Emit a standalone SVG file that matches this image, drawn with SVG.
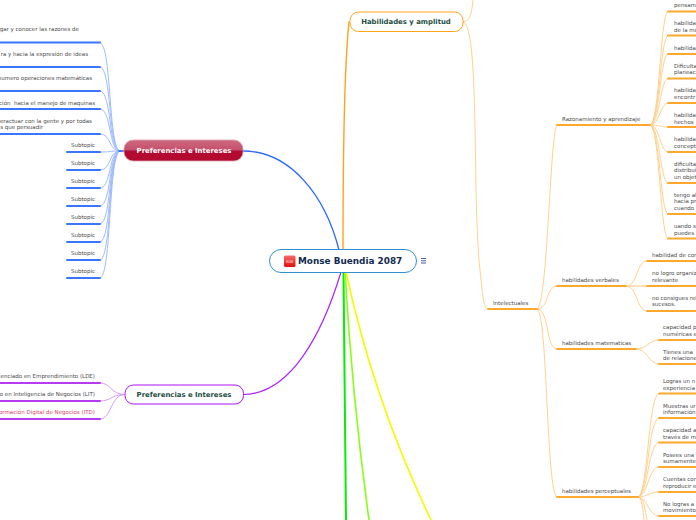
<svg xmlns="http://www.w3.org/2000/svg" width="696" height="520" viewBox="0 0 696 520">
<style>
text{font-family:"DejaVu Sans",Verdana,sans-serif;font-size:5.5px;fill:#4a4a4a}
.e{text-anchor:end}
.m{text-anchor:middle;font-weight:bold;font-size:6.9px;dominant-baseline:central}
.b{fill:none;stroke-linecap:round}
.bb{stroke:#3a75ff;stroke-width:2}
.bl{stroke:#9dbcff;stroke-width:1}
.pb{stroke:#b53cf2;stroke-width:2}
.pl{stroke:#d79bf8;stroke-width:1}
.ob{stroke:#ffa82e;stroke-width:2}
.ol{stroke:#ffd08f;stroke-width:1}
</style>
<defs>
<linearGradient id="red" x1="0" y1="0" x2="0" y2="1">
<stop offset="0" stop-color="#cf6a80"/><stop offset=".48" stop-color="#c4506c"/><stop offset=".52" stop-color="#b20a30"/><stop offset="1" stop-color="#b20a30"/>
</linearGradient>
<linearGradient id="ic" x1="0" y1="0" x2="0" y2="1"><stop offset="0" stop-color="#f56a6a"/><stop offset="1" stop-color="#e00f0f"/></linearGradient>
</defs>
<g id="connectors">
<path class="b" stroke="#2f6bff" stroke-width="1.4" d="M243 151C290 151 325 195 339 250"/>
<path class="b" stroke="#aa22ff" stroke-width="1.2" d="M243 394.500C290 394.500 322 335 341 272"/>
<path class="b" stroke="#ffa31a" stroke-width="1.4" d="M343 250C343 150 345 60 349 22"/>
<path class="b" stroke="#00f000" stroke-width="2" d="M343.500 272L346 520"/>
<path class="b" stroke="#88ff11" stroke-width="1.6" d="M345 272C350 360 358 440 369 520"/>
<path class="b" stroke="#f8f800" stroke-width="1.6" d="M346 272C365 360 395 445 431 520"/>
<g class="b bl">
<path d="M120 151C108 151 112 43 100 43"/><path d="M120 151C108 151 112 67 100 67"/><path d="M120 151C108 151 112 91 100 91"/><path d="M120 151C108 151 112 109 100 109"/><path d="M120 151C108 151 112 134 100 134"/><path d="M120 151C108 151 112 152 100 152"/><path d="M120 151C108 151 112 170 100 170"/><path d="M120 151C108 151 112 188 100 188"/><path d="M120 151C108 151 112 206 100 206"/><path d="M120 151C108 151 112 224 100 224"/><path d="M120 151C108 151 112 242 100 242"/><path d="M120 151C108 151 112 260 100 260"/><path d="M120 151C108 151 112 278 100 278"/>
</g>
<path class="b" stroke="#1f5cff" stroke-width="1.6" d="M119 151H124"/>
<g class="b bb">
<path d="M0 42.500H100"/><path d="M0 67H100"/><path d="M0 91H100"/><path d="M0 109H100"/><path d="M0 134H100"/><path d="M67 152H100"/><path d="M67 170H100"/><path d="M67 188H100"/><path d="M67 206H100"/><path d="M67 224H100"/><path d="M67 242H100"/><path d="M67 260H100"/><path d="M67 278H100"/>
</g>
<g class="b pl">
<path d="M125 394.500C110 394.500 112 383 100 383"/><path d="M125 394.500C110 394.500 112 401 100 401"/><path d="M125 394.500C110 394.500 112 419 100 419"/>
</g>
<g class="b pb"><path d="M0 383H100"/><path d="M0 401H100"/><path d="M0 419H100"/></g>
<g class="b ol">
<path d="M463 22C470 22 472 12 473 0"/>
<path d="M463 22C480 22 472 200 480 270C483 300 484 309 488 309"/>
<path d="M537 309C548 309 550 125 557 125"/>
<path d="M537 309C550 309 545 286 557 286"/>
<path d="M537 309C550 309 545 349 557 349"/>
<path d="M537 309C548 309 546 497 557 497"/>
<path d="M650 125C660 125 660 11.500 668 11.500"/><path d="M650 125C660 125 660 35.500 668 35.500"/><path d="M650 125C660 125 660 54 668 54"/><path d="M650 125C660 125 660 78.500 668 78.500"/><path d="M650 125C660 125 660 103 668 103"/><path d="M650 125C660 125 660 127 668 127"/><path d="M650 125C660 125 660 152 668 152"/><path d="M650 125C660 125 660 183 668 183"/><path d="M650 125C660 125 660 214 668 214"/><path d="M650 125C660 125 660 238.500 668 238.500"/>
<path d="M626 286C638 286 636 261 647 261"/><path d="M626 286H647" stroke="#ffe2bd" stroke-width="2"/><path d="M626 286C638 286 636 311 647 311"/>
<path d="M636 349C648 349 648 340 659 340"/><path d="M636 349C648 349 648 364 659 364"/>
<path d="M638 497C648 497 648 393.500 659 393.500"/><path d="M638 497C648 497 648 418 659 418"/><path d="M638 497C648 497 648 442.500 659 442.500"/><path d="M638 497C648 497 648 467 659 467"/><path d="M638 497C648 497 648 492 659 492"/><path d="M638 497C648 497 648 516 659 516"/><path d="M638 497C644 497 645 510 647 520"/><path d="M638 497C642 497 643 510 644 520"/>
</g>
<g class="b ob">
<path d="M557 125H650"/><path d="M488 309H537"/><path d="M557 286H626"/><path d="M647 286H696"/><path d="M557 349H636"/><path d="M557 497H638"/>
<path d="M668 11.500H696"/><path d="M668 35.500H696"/><path d="M668 54H696"/><path d="M668 78.500H696"/><path d="M668 103H696"/><path d="M668 127H696"/><path d="M668 152H696"/><path d="M668 183H696"/><path d="M668 214H696"/><path d="M668 238.500H696"/>
<path d="M647 261H696"/><path d="M647 311H696"/><path d="M659 340H696"/><path d="M659 364H696"/>
<path d="M659 393.500H696"/><path d="M659 418H696"/><path d="M659 442.500H696"/><path d="M659 467H696"/><path d="M659 492H696"/><path d="M659 516H696"/>
</g>
</g>
<g id="center">
<rect x="269.500" y="249.500" width="147" height="23" rx="11.500" fill="#fff" stroke="#2f8fd0" stroke-width="1"/>
<rect x="284" y="255.500" width="11.500" height="11.500" rx="1.500" fill="url(#ic)"/>
<text x="289.700" y="262.600" text-anchor="middle" style="font-size:3.500px;fill:#fff">SOS</text>
<text x="298" y="264.300" style="font-size:8.900px;font-weight:bold;fill:#122a52">Monse Buendia 2087</text>
<path d="M421 258.500H426M421 260.800H426M421 263H426" stroke="#4a5f8f" stroke-width="1"/>
</g>
<g id="pref-red">
<rect x="124" y="140" width="119" height="21" rx="9" fill="url(#red)" stroke="#d9a0ac" stroke-width=".8"/>
<text x="184" y="150.500" class="m" style="fill:#fff">Preferencias e Intereses</text>
</g>
<g id="pref-purple">
<rect x="125" y="385" width="118.500" height="19" rx="8.500" fill="#fff" stroke="#aa11ff" stroke-width="1"/>
<text x="184" y="394.500" class="m" style="fill:#1d4d3f">Preferencias e Intereses</text>
</g>
<g id="habilidades">
<rect x="350" y="12" width="113" height="19.500" rx="8.500" fill="#fff" stroke="#ffa31a" stroke-width="1"/>
<text x="406" y="21.500" class="m" style="fill:#1d4d3f">Habilidades y amplitud</text>
</g>
<g id="pref-items">
<text x="79" y="31" class="e">gar y conocer las razones de</text>
<text x="88" y="56" class="e">ra y hacia la expresión de ideas</text>
<text x="92" y="80" class="e">numero operaciones matemáticas</text>
<text x="95" y="105" class="e">ción&#160; hacia el manejo de maquinas</text>
<text x="92" y="123" class="e">eractuar con la gente y por todas</text>
<text x="43" y="129" class="e">s que persuadir</text>
<text x="71" y="147">Subtopic</text><text x="71" y="165">Subtopic</text><text x="71" y="183">Subtopic</text><text x="71" y="201">Subtopic</text><text x="71" y="219">Subtopic</text><text x="71" y="237">Subtopic</text><text x="71" y="255">Subtopic</text><text x="71" y="273">Subtopic</text>
<text x="95" y="378" class="e">enciado en Emprendimiento (LDE)</text>
<text x="95" y="396" class="e">o en Inteligencia de Negocios (LIT)</text>
<text x="95" y="414" class="e" style="fill:#d2436c">ormación Digital de Negocios (ITD)</text>
</g>
<g id="intelectuales">
<text x="493" y="305">Intelectuales</text>
<text x="562" y="121">Razonamiento y aprendizaje</text>
<text x="562" y="282">habilidades verbales</text>
<text x="562" y="345">habilidades matematicas</text>
<text x="562" y="493">habilidades perceptuales</text>
<text x="674" y="7">pensami</text>
<text x="674" y="25">habilida</text><text x="674" y="32">de la mo</text>
<text x="674" y="50">habilida</text>
<text x="674" y="68">Dificulta</text><text x="674" y="74">planeaci</text>
<text x="674" y="92">habilida</text><text x="674" y="99">encontr</text>
<text x="674" y="117">habilida</text><text x="674" y="123.500">hechos</text>
<text x="674" y="141">habilida</text><text x="674" y="148">concept</text>
<text x="674" y="166">dificulta</text><text x="674" y="172">distribui</text><text x="674" y="179">un objet</text>
<text x="674" y="197">tengo al</text><text x="674" y="203">hacia pr</text><text x="674" y="210">cuando t</text>
<text x="674" y="228">uando s</text><text x="674" y="234.500">puedes l</text>
<text x="652" y="257">habilidad de con</text>
<text x="652" y="275">no logro organiz</text><text x="652" y="282">relevante</text>
<text x="652" y="300">no consigues rel</text><text x="652" y="306">sucesos.</text>
<text x="663" y="329">capacidad p</text><text x="663" y="336">numéricas e</text>
<text x="663" y="354">Tienes una</text><text x="663" y="360">de relacione</text>
<text x="663" y="383">Logras un n</text><text x="663" y="390">experiencia</text>
<text x="663" y="408">Muestras ur</text><text x="663" y="414">información</text>
<text x="663" y="432">capacidad a</text><text x="663" y="439">través de m</text>
<text x="663" y="457">Posees una</text><text x="663" y="463">sumamente</text>
<text x="663" y="481">Cuentas cor</text><text x="663" y="488">reproducir e</text>
<text x="663" y="506">No logras a</text><text x="663" y="512">movimiento</text>
</g>
</svg>
